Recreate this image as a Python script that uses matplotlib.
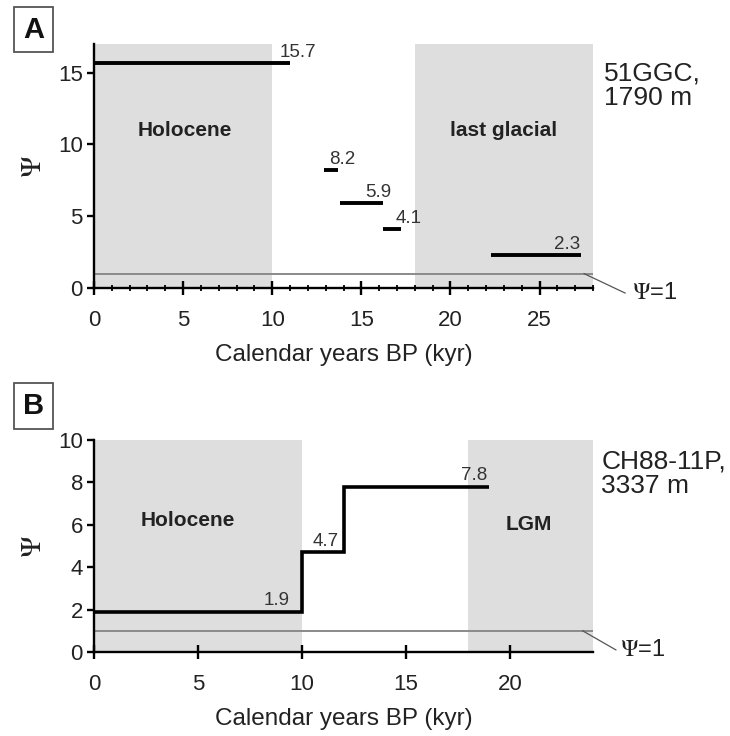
import numpy as np
import matplotlib
matplotlib.use('Agg')
import matplotlib.pyplot as plt
from matplotlib.lines import Line2D

plt.rcParams['font.family'] = ['Liberation Sans', 'DejaVu Sans']
plt.rcParams['mathtext.fontset'] = 'stix'

# Panel A: 51GGC, 1790 m  (Psi values over age intervals, kyr)
a_start = [0, 12.9, 13.8, 16.2, 22.3]
a_end = [11.0, 13.7, 16.2, 17.2, 27.3]
a_psi = [15.7, 8.2, 5.9, 4.1, 2.3]
a_shade = [(0, 10, 'Holocene'), (18, 28, 'last glacial')]

# Panel B: CH88-11P, 3337 m  (step curve)
b_edges = [0, 10, 12, 19]
b_psi = [1.9, 4.7, 7.8]
b_shade = [(0, 10, 'Holocene'), (18, 24, 'LGM')]

shade_col = '#dedede'
W, H = 730, 736


def px_axes(fig, left, top, right, bottom):
    return fig.add_axes([left / W, 1 - bottom / H, (right - left) / W, (bottom - top) / H])


def style(ax, xmax, ymax, yticks, minor):
    ax.set_xlim(0, xmax)
    ax.set_ylim(0, ymax)
    for s in ['top', 'right']:
        ax.spines[s].set_visible(False)
    for s in ['left', 'bottom']:
        ax.spines[s].set_linewidth(1.7)
    ax.set_yticks(yticks)
    ax.set_xticks(np.arange(0, xmax + 0.1, 5))
    if minor:
        ax.set_xticks(np.arange(0, xmax + 0.1, 1), minor=True)
    ax.tick_params(axis='x', which='major', direction='inout', length=10, width=1.7,
                   labelsize=16, pad=11, labelcolor='#222222')
    ax.tick_params(axis='x', which='minor', direction='inout', length=5, width=1.3)
    ax.tick_params(axis='y', direction='out', length=5, width=1.7, labelsize=16, pad=3,
                   labelcolor='#222222')
    ax.set_xlabel('Calendar years BP (kyr)', fontsize=17.5, labelpad=9, color='#222222')
    ax.set_ylabel(r'$\Psi$', fontsize=21, labelpad=8, color='#222222')
    ax.axhline(1, color='#8a8a8a', lw=1.4, zorder=2)


def psi_one(ax, x0, x1, y1, xt):
    ax.add_line(Line2D([x0, x1], [1, y1], color='#555555', lw=0.9, clip_on=False))
    ax.text(xt, y1, r'$\Psi$=1', fontsize=17, ha='left', va='center', clip_on=False,
            color='#222222')


def panel_label(fig, letter, x, y):
    fig.text(x / W, 1 - y / H, letter, fontsize=21, fontweight='bold', ha='center', va='center',
             color='#111111',
             bbox=dict(boxstyle='square,pad=0.3', fc='white', ec='#555555', lw=1.3))


fig = plt.figure(figsize=(7.3, 7.36), dpi=100)

# ---- Panel A
ax = px_axes(fig, 94, 44, 593, 288)
style(ax, 28, 17, [0, 5, 10, 15], True)
a_txt = [(5.1, 11.0), (23.0, 11.0)]
for (tx, ty), (x0, x1, name) in zip(a_txt, a_shade):
    ax.axvspan(x0, x1, color=shade_col, lw=0, zorder=0)
    ax.text(tx, ty, name, fontsize=15, fontweight='bold', ha='center', va='center',
            color='#222222')
for s, e, p in zip(a_start, a_end, a_psi):
    ax.hlines(p, s, e, color='black', lw=2.8, zorder=3)
a_lab = [(10.4, 'left'), (13.2, 'left'), (15.2, 'left'), (16.9, 'left'), (27.3, 'right')]
for (lx, ha), p in zip(a_lab, a_psi):
    ax.text(lx, p + 0.15, f'{p}', fontsize=13.5, ha=ha, va='bottom', color='#333333')
psi_one(ax, 27.5, 29.8, -0.35, 30.2)
ax.text(28.6, 14.1, '51GGC,\n1790 m', fontsize=19, ha='left', va='center', linespacing=1.05,
        clip_on=False, color='#222222')
panel_label(fig, 'A', 33.5, 29.5)

# ---- Panel B
ax = px_axes(fig, 94, 440, 593, 652)
style(ax, 24, 10, [0, 2, 4, 6, 8, 10], False)
b_txt = [(4.5, 6.2), (20.9, 6.0)]
for (tx, ty), (x0, x1, name) in zip(b_txt, b_shade):
    ax.axvspan(x0, x1, color=shade_col, lw=0, zorder=0)
    ax.text(tx, ty, name, fontsize=15, fontweight='bold', ha='center', va='center',
            color='#222222')
ax.stairs(b_psi, b_edges, color='black', lw=2.6, baseline=None, zorder=3)
b_lab = [(9.4, 'right'), (10.5, 'left'), (18.9, 'right')]
for (lx, ha), p in zip(b_lab, b_psi):
    ax.text(lx, p + 0.12, f'{p}', fontsize=13.5, ha=ha, va='bottom', color='#333333')
psi_one(ax, 23.5, 25.1, 0.1, 25.3)
ax.text(24.4, 8.4, 'CH88-11P,\n3337 m', fontsize=19, ha='left', va='center', linespacing=1.05,
        clip_on=False, color='#222222')
panel_label(fig, 'B', 33.5, 406)

fig.savefig('out.png', dpi=100)
